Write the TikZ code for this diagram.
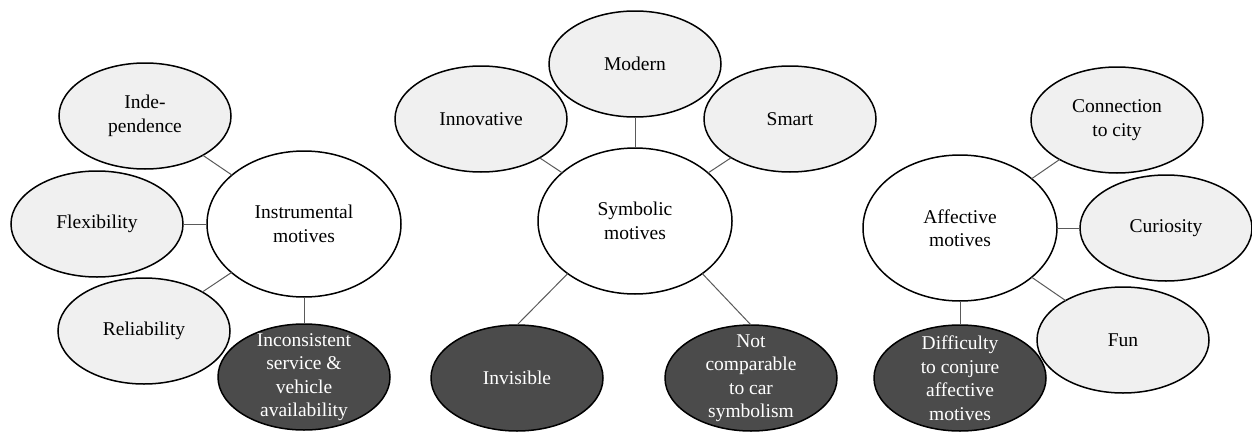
\documentclass[tikz,border=0pt]{standalone}
\usepackage{fontspec}
\setmainfont{Liberation Serif}
\newfontfamily\labelface{Liberation Serif}
\usetikzlibrary{shapes.geometric}
\definecolor{bubblefill}{HTML}{F0F0F0}
\definecolor{darkfill}{HTML}{4B4B4B}
\definecolor{linkgrey}{HTML}{5A5A5A}
\begin{document}
\begin{tikzpicture}[x=1pt,y=-1pt,
  base/.style={ellipse, draw=black, line width=1.5pt, inner sep=0pt, outer sep=0pt},
  sat/.style={base, fill=bubblefill, minimum width=172pt, minimum height=106pt},
  hub/.style={base, fill=white, minimum width=194pt, minimum height=146pt},
  neg/.style={base, fill=darkfill, minimum width=172pt, minimum height=106pt},
  txt/.style={align=center, font=\labelface\fontsize{19.5}{23.5}\selectfont, inner sep=0pt, text=black},
  wtxt/.style={txt, text=white},
  conn/.style={draw=linkgrey, line width=1pt}
]
\useasboundingbox (0,0) rectangle (1252,431);

% instrumental cluster
\node[hub, label={[txt]center:{Instrumental\\motives}}] (ins) at (304,224) {};
\node[sat, label={[txt]center:{Inde-\\pendence}}] (ind) at (145,116) {};
\node[sat, label={[txt]center:Flexibility}] (flx) at (97,224) {};
\node[sat, label={[txt]center:Reliability}] (rel) at (144,331) {};
\node[neg, label={[wtxt]center:{Inconsistent\\service \&\\vehicle\\availability}}] (inc) at (304,377) {};

% symbolic cluster
\node[hub, label={[txt]center:{Symbolic\\motives}}] (sym) at (635,221) {};
\node[sat, label={[txt]center:Modern}] (mod) at (635,64) {};
\node[sat, label={[txt]center:Innovative}] (inn) at (481,119) {};
\node[sat, label={[txt]center:Smart}] (sma) at (790,119) {};
\node[neg, label={[wtxt]center:Invisible}] (inv) at (517,378) {};
\node[neg, label={[wtxt]center:{Not\\comparable\\to car\\symbolism}}] (ncs) at (751,378) {};

% affective cluster
\node[hub, label={[txt]center:{Affective\\motives}}] (aff) at (960,228) {};
\node[sat, label={[txt]center:{Connection\\to city}}] (con) at (1117,120) {};
\node[sat, label={[txt]center:Curiosity}] (cur) at (1166,228) {};
\node[sat, label={[txt]center:Fun}] (fun) at (1123,340) {};
\node[neg, label={[wtxt]center:{Difficulty\\to conjure\\affective\\motives}}] (dif) at (960,378) {};

% links
\draw[conn] (ins) -- (ind);
\draw[conn] (ins) -- (flx);
\draw[conn] (ins) -- (rel);
\draw[conn] (ins) -- (inc);
\draw[conn] (sym) -- (mod);
\draw[conn] (sym) -- (inn);
\draw[conn] (sym) -- (sma);
\draw[conn] (sym.218) -- (inv.north);
\draw[conn] (sym.322) -- (ncs.north);
\draw[conn] (aff) -- (con);
\draw[conn] (aff) -- (cur);
\draw[conn] (aff) -- (fun);
\draw[conn] (aff) -- (dif);
\end{tikzpicture}
\end{document}
